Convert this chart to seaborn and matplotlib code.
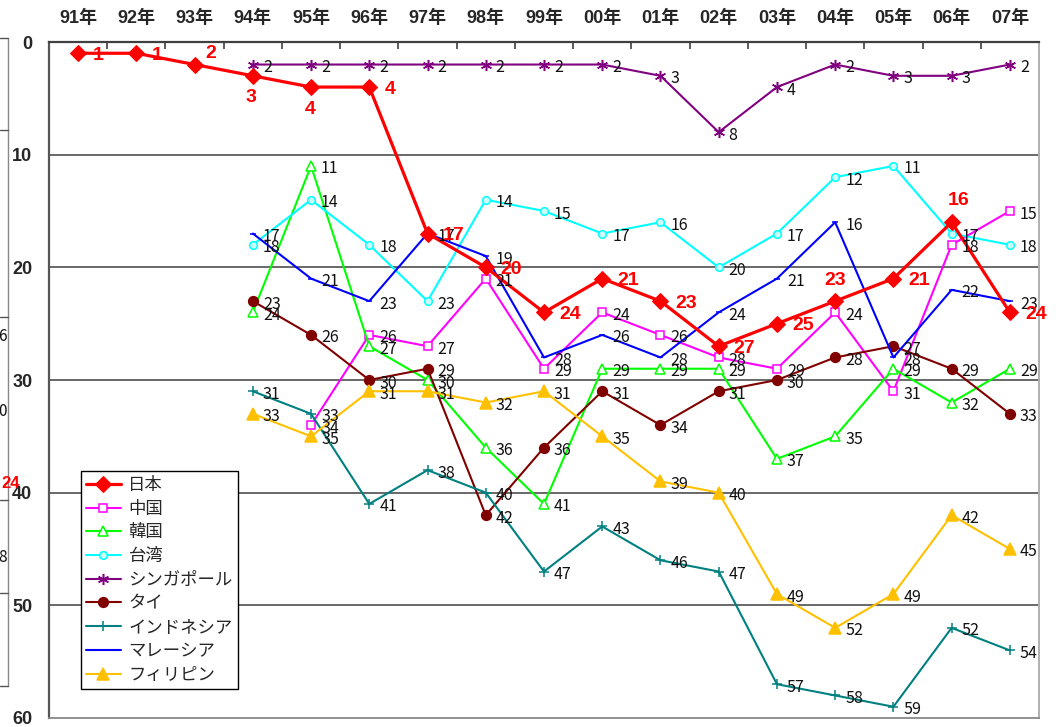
import numpy as np
import matplotlib
matplotlib.use('Agg')
import matplotlib.pyplot as plt
import seaborn as sns
from matplotlib.lines import Line2D

# ── Data ─────────────────────────────────────────────────────────────────────
years = ['91年', '92年', '93年', '94年', '95年', '96年', '97年', '98年', '99年',
         '00年', '01年', '02年', '03年', '04年', '05年', '06年', '07年']
N = np.nan

japan       = [1, 1, 2, 3, 4, 4, 17, 20, 24, 21, 23, 27, 25, 23, 21, 16, 24]
china       = [N, N, N, N, 34, 26, 27, 21, 29, 24, 26, 28, 29, 24, 31, 18, 15]
korea       = [N, N, N, 24, 11, 27, 30, 36, 41, 29, 29, 29, 37, 35, 29, 32, 29]
taiwan      = [N, N, N, 18, 14, 18, 23, 14, 15, 17, 16, 20, 17, 12, 11, 17, 18]
singapore   = [N, N, N, 2, 2, 2, 2, 2, 2, 2, 3, 8, 4, 2, 3, 3, 2]
thailand    = [N, N, N, 23, 26, 30, 29, 42, 36, 31, 34, 31, 30, 28, 27, 29, 33]
indonesia   = [N, N, N, 31, 33, 41, 38, 40, 47, 43, 46, 47, 57, 58, 59, 52, 54]
malaysia    = [N, N, N, 17, 21, 23, 17, 19, 28, 26, 28, 24, 21, 16, 28, 22, 23]
philippines = [N, N, N, 33, 35, 31, 31, 32, 31, 35, 39, 40, 49, 52, 49, 42, 45]

# (name, values, color, marker, size, facecolor)
others = [
    ('中国',         china,       '#FF00FF', 's', 5.5, 'white'),
    ('韓国',         korea,       '#00FF00', '^', 6.5, 'white'),
    ('台湾',         taiwan,      '#00FFFF', 'o', 5.5, '#CCFFFF'),
    ('シンガポール', singapore,   '#800080', (6, 2, 0), 8, '#800080'),
    ('タイ',         thailand,    '#800000', 'o', 7, '#800000'),
    ('インドネシア', indonesia,   '#008080', '+', 7, '#008080'),
    ('マレーシア',   malaysia,    '#0000FF', '_', 5, '#0000FF'),
    ('フィリピン',   philippines, '#FFC000', '^', 8.5, '#FFC000'),
]

# offsets (pixels) of the bold red labels on the Japan line
jp_offsets = {2: (11, 11, 'left'), 3: (-2, -22, 'center'), 4: (-1, -22, 'center'),
              13: (0, 21, 'center'), 15: (7, 22, 'center')}

JP = ['Noto Sans CJK JP', 'DejaVu Sans']
BOLD = ['Liberation Sans', 'Noto Sans CJK JP', 'DejaVu Sans']

sns.set_style('white')
plt.rcParams['font.family'] = JP

fig = plt.figure(figsize=(10.63, 7.27), dpi=100)
ax = fig.add_axes([49 / 1063, 1 - 718 / 727, 990 / 1063, 676 / 727])
x = np.arange(len(years))

# ── Lines ────────────────────────────────────────────────────────────────────
for i, (name, vals, col, mk, ms, fc) in enumerate(others):
    v = np.array(vals, dtype=float)
    ok = ~np.isnan(v)
    sns.lineplot(x=x[ok], y=v[ok], ax=ax, color=col, linewidth=1.5, marker=mk,
                 markersize=ms, markerfacecolor=fc, markeredgecolor=col,
                 markeredgewidth=1.1, label=name, zorder=3 + i * 0.1, sort=False)
    for xi, yi in zip(x[ok], v[ok]):
        ax.annotate(f'{int(yi)}', (xi, yi), xytext=(10, -3), textcoords='offset pixels',
                    ha='left', va='center', fontsize=11.5, color='#111111', zorder=6)

sns.lineplot(x=x, y=japan, ax=ax, color='#FF0000', linewidth=2.3, marker='D',
             markersize=8.2, markerfacecolor='#FF0000', markeredgecolor='#FF0000',
             label='日本', zorder=5, sort=False)
for xi, yi in zip(x, japan):
    dx, dy, ha = jp_offsets.get(xi, (15, -2, 'left'))
    ax.annotate(f'{yi}', (xi, yi), xytext=(dx, dy), textcoords='offset pixels',
                ha=ha, va='center', fontsize=14, fontweight='bold', color='#FF0000',
                family=BOLD, zorder=7)

# ── Axes ─────────────────────────────────────────────────────────────────────
ax.set_xlim(-0.5, len(years) - 0.5)
ax.set_ylim(60, 0)
ax.set_xlabel(''); ax.set_ylabel('')

ax.xaxis.tick_top()
ax.set_xticks(np.arange(0.5, len(years) - 1, 1.0))
ax.set_xticklabels([])
ax.set_xticks(x, minor=True)
ax.set_xticklabels(years, minor=True, fontsize=13, fontweight='bold', family=BOLD)
ax.tick_params(axis='x', which='major', direction='in', length=5, width=1.2,
               color='#404040', top=True, bottom=False)
ax.tick_params(axis='x', which='minor', length=0, pad=11, top=True, bottom=False)

ax.set_yticks(np.arange(0, 61, 10))
ax.set_yticklabels([str(v) for v in range(0, 61, 10)], fontsize=13,
                   fontweight='bold', family=BOLD)
ax.tick_params(axis='y', direction='in', length=5, width=1.2, color='#404040', pad=12)

for g in range(10, 60, 10):
    ax.axhline(g, color='#404040', linewidth=1.1, zorder=1)

ax.spines['left'].set_color('#555555'); ax.spines['left'].set_linewidth(1.6)
ax.spines['top'].set_color('#404040'); ax.spines['top'].set_linewidth(1.6)
ax.spines['right'].set_color('#AAAAAA'); ax.spines['right'].set_linewidth(1.3)
ax.spines['bottom'].set_color('#888888'); ax.spines['bottom'].set_linewidth(1.3)

# ── Legend ───────────────────────────────────────────────────────────────────
handles, labels = ax.get_legend_handles_labels()
order = [labels.index('日本')] + [labels.index(o[0]) for o in others]
leg = ax.legend([handles[k] for k in order], [labels[k] for k in order],
                loc='lower left', bbox_to_anchor=(0.032, 0.043), borderaxespad=0,
                fontsize=12.5, frameon=True, fancybox=False, edgecolor='black',
                framealpha=1, handlelength=2.0, handletextpad=0.45,
                labelspacing=0.33, borderpad=0.3)
leg.get_frame().set_linewidth(1.0)
leg.set_zorder(10)

# ── Remnant of neighbouring chart at the left edge ───────────────────────────
fw, fh = 1063, 727
fig.add_artist(Line2D([8 / fw, 8 / fw], [1 - 38 / fh, 1 - 686 / fh],
                      color='#888888', linewidth=1.0))
for yy in [38, 130, 317, 500, 593, 686]:
    fig.add_artist(Line2D([0, 8 / fw], [1 - yy / fh, 1 - yy / fh],
                          color='#555555', linewidth=1.0))
for txt, yy, col, w in [('6', 337, '#111111', 'normal'), ('0', 411, '#111111', 'normal'),
                        ('8', 558, '#111111', 'normal')]:
    fig.text(7 / fw, 1 - yy / fh, txt, ha='right', va='center',
             fontsize=11, color=col, fontweight=w, family=JP)
fig.text(1 / fw, 1 - 483 / fh, '24', ha='left', va='center', fontsize=12,
         color='#FF0000', fontweight='bold', family=BOLD)

fig.savefig('out.png', dpi=100)
